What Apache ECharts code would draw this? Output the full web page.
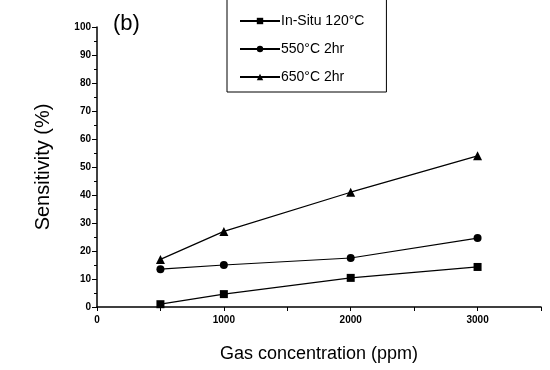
<!DOCTYPE html>
<html>
<head>
<meta charset="utf-8">
<script src="https://cdn.jsdelivr.net/npm/echarts@6/dist/echarts.min.js"></script>
<style>
  html, body { margin: 0; padding: 0; background: #fff; }
  #chart { width: 550px; height: 370px; }
</style>
</head>
<body>
<div id="chart"></div>
<script>
// gas concentration (ppm)
var concentrations = [500, 1000, 2000, 3000];
var seriesNames = ['In-Situ 120°C', '550°C 2hr', '650°C 2hr'];
var inSitu = [1, 4.6, 10.4, 14.3];
var anneal550 = [13.5, 15, 17.5, 24.6];
var anneal650 = [17, 27, 41, 54];
var symbols = ['rect', 'circle', 'triangle'];

var chart = echarts.init(document.getElementById('chart'));

function pairs(vals) {
  return concentrations.map(function (c, i) { return [c, vals[i]]; });
}

var allVals = [inSitu, anneal550, anneal650];
var series = allVals.map(function (vals, i) {
  return {
    name: seriesNames[i],
    type: 'line',
    data: pairs(vals),
    symbol: symbols[i],
    symbolSize: i === 2 ? 9 : 8,
    lineStyle: { color: '#000', width: 1.2 },
    itemStyle: { color: '#000' },
    z: 3
  };
});

var option = {
  animation: false,
  backgroundColor: '#fff',
  textStyle: { fontFamily: 'Liberation Sans, Arial, sans-serif', color: '#000' },
  grid: { left: 97, right: 9, top: 27, bottom: 63 },
  title: {
    text: '(b)',
    left: 108,
    top: 8,
    textStyle: { fontSize: 22, fontWeight: 'normal', color: '#000' }
  },
  legend: {
    orient: 'vertical',
    left: 227,
    top: -4,
    itemWidth: 40,
    itemHeight: 8,
    itemGap: 14,
    padding: [18, 22, 8, 12],
    borderColor: '#000',
    borderWidth: 1,
    textStyle: { fontSize: 14, color: '#000', padding: [0, 0, 0, -4] },
    data: seriesNames
  },
  xAxis: {
    type: 'value',
    min: 0,
    max: 3500,
    interval: 500,
    name: 'Gas concentration (ppm)',
    nameLocation: 'middle',
    nameGap: 38,
    nameTextStyle: { fontSize: 18, color: '#000' },
    axisLine: { show: true, lineStyle: { color: '#000', width: 1.5 } },
    axisTick: { show: true, length: 4, lineStyle: { color: '#000' } },
    axisLabel: {
      fontSize: 10,
      color: '#000',
      fontWeight: 'bold',
      margin: 8,
      formatter: function (v) { return v % 1000 === 0 && v <= 3000 ? String(v) : ''; }
    },
    splitLine: { show: false }
  },
  yAxis: {
    type: 'value',
    min: 0,
    max: 100,
    interval: 10,
    name: 'Sensitivity (%)',
    nameLocation: 'middle',
    nameGap: 44,
    nameTextStyle: { fontSize: 20, color: '#000' },
    axisLine: { show: true, lineStyle: { color: '#000', width: 1.5 } },
    axisTick: { show: true, inside: false, length: 5, lineStyle: { color: '#000' } },
    minorTick: { show: true, splitNumber: 2, length: 3, lineStyle: { color: '#000' } },
    axisLabel: { fontSize: 10, color: '#000', fontWeight: 'bold', margin: 6 },
    splitLine: { show: false }
  },
  series: series
};

chart.setOption(option);
</script>
</body>
</html>
